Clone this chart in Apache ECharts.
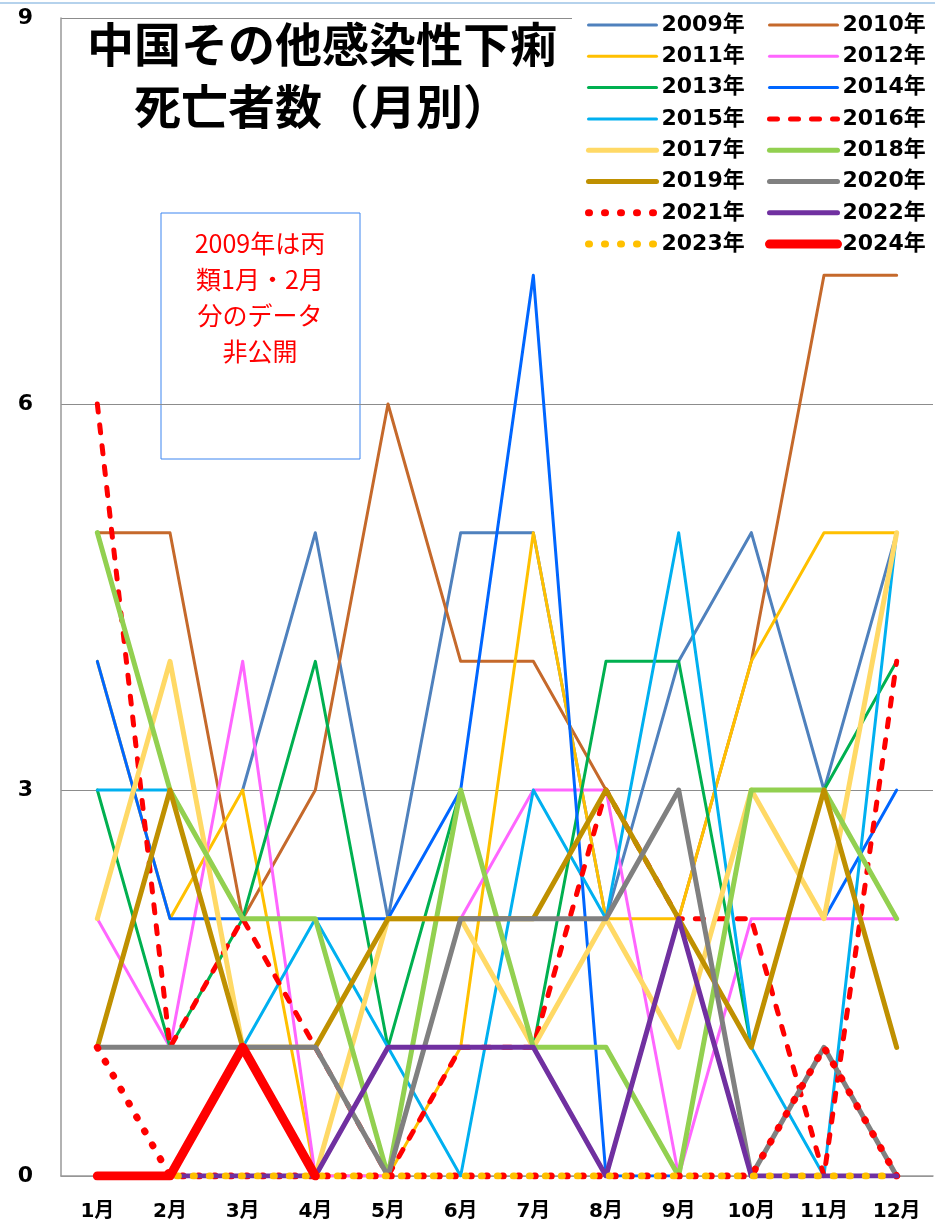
<!DOCTYPE html>
<html>
<head>
<meta charset="utf-8">
<script src="https://cdn.jsdelivr.net/npm/echarts@6/dist/echarts.min.js"></script>
<style>
  html, body { margin: 0; padding: 0; background: #fff; }
  #chart { width: 935px; height: 1231px; }
</style>
</head>
<body>
<div id="chart"></div>
<script>
// months on the x axis
const months = ['1月', '2月', '3月', '4月', '5月', '6月', '7月', '8月', '9月', '10月', '11月', '12月'];
// y axis range
const yMax = 9;
const yStep = 3;

// deaths per month, one array per year (2009 Jan/Feb not published)
const d2009 = [null, null, 3, 5, 2, 5, 5, 2, 4, 5, 3, 5];
const d2010 = [5, 5, 2, 3, 6, 4, 4, 3, 2, 4, 7, 7];
const d2011 = [4, 2, 3, 0, 0, 1, 5, 2, 2, 4, 5, 5];
const d2012 = [2, 1, 4, 0, 0, 2, 3, 3, 0, 2, 2, 2];
const d2013 = [3, 1, 2, 4, 1, 3, 1, 4, 4, 1, 3, 4];
const d2014 = [4, 2, 2, 2, 2, 3, 7, 0, 0, 3, 2, 3];
const d2015 = [3, 3, 1, 2, 1, 0, 3, 2, 5, 1, 0, 5];
const d2016 = [6, 1, 2, 1, 0, 1, 1, 3, 2, 2, 0, 4];
const d2017 = [2, 4, 1, 0, 2, 2, 1, 2, 1, 3, 2, 5];
const d2018 = [5, 3, 2, 2, 0, 3, 1, 1, 0, 3, 3, 2];
const d2019 = [1, 3, 1, 1, 2, 2, 2, 3, 2, 1, 3, 1];
const d2020 = [1, 1, 1, 1, 0, 2, 2, 2, 3, 0, 1, 0];
const d2021 = [1, 0, 0, 0, 0, 0, 0, 0, 0, 0, 1, 0];
const d2022 = [0, 0, 0, 0, 1, 1, 1, 0, 2, 0, 0, 0];
const d2023 = [0, 0, 0, 0, 0, 0, 0, 0, 0, 0, 0, 0];
const d2024 = [0, 0, 1, 0, null, null, null, null, null, null, null, null];

const FONT = '"DejaVu Sans", "Noto Sans CJK JP", sans-serif';
const DASH = [8, 13];
const DOT = [1, 15];

// series list: name, values, look
const lines = [
  { name: '2009年', data: d2009, color: '#4f81bd', width: 3 },
  { name: '2010年', data: d2010, color: '#c5692b', width: 3 },
  { name: '2011年', data: d2011, color: '#ffc000', width: 3 },
  { name: '2012年', data: d2012, color: '#ff66ff', width: 3 },
  { name: '2013年', data: d2013, color: '#00b050', width: 3 },
  { name: '2014年', data: d2014, color: '#0066ff', width: 3 },
  { name: '2015年', data: d2015, color: '#00b0f0', width: 3 },
  { name: '2016年', data: d2016, color: '#ff0000', width: 5, type: DASH },
  { name: '2017年', data: d2017, color: '#ffd966', width: 5 },
  { name: '2018年', data: d2018, color: '#92d050', width: 5 },
  { name: '2019年', data: d2019, color: '#bf9000', width: 5 },
  { name: '2020年', data: d2020, color: '#808080', width: 5 },
  { name: '2021年', data: d2021, color: '#ff0000', width: 7, type: DOT },
  { name: '2022年', data: d2022, color: '#7030a0', width: 5 },
  { name: '2023年', data: d2023, color: '#ffc000', width: 7, type: DOT },
  { name: '2024年', data: d2024, color: '#ff0000', width: 9 }
];

const series = lines.map(function (l) {
  return {
    name: l.name,
    type: 'line',
    data: l.data,
    symbol: 'none',
    showSymbol: false,
    color: l.color,
    lineStyle: {
      color: l.color,
      width: l.width,
      type: l.type || 'solid',
      cap: 'round',
      join: 'round'
    }
  };
});

const legendBase = {
  orient: 'vertical',
  top: 5,
  itemWidth: 68,
  itemHeight: 14,
  itemGap: 9.3,
  backgroundColor: '#fff',
  itemStyle: { opacity: 0 },
  lineStyle: { width: 'inherit' },
  textStyle: { fontFamily: FONT, fontSize: 22, fontWeight: 'bold', color: '#000' }
};

const option = {
  animation: false,
  backgroundColor: '#fff',
  grid: { left: 61, right: 2, top: 18, bottom: 55 },
  legend: [
    Object.assign({}, legendBase, {
      left: 572,
      padding: [9, 20, 8, 13],
      data: lines.filter(function (l, i) { return i % 2 === 0; }).map(function (l) { return l.name; })
    }),
    Object.assign({}, legendBase, {
      left: 760,
      padding: [9, 20, 8, 5],
      data: lines.filter(function (l, i) { return i % 2 === 1; }).map(function (l) { return l.name; })
    })
  ],
  xAxis: {
    type: 'category',
    data: months,
    boundaryGap: true,
    axisLine: { show: true, lineStyle: { color: '#999', width: 1.5 } },
    axisTick: { show: false },
    axisLabel: { fontFamily: FONT, fontSize: 20, fontWeight: 'bold', color: '#000', margin: 26 }
  },
  yAxis: {
    type: 'value',
    min: 0,
    max: yMax,
    interval: yStep,
    axisLine: { show: true, lineStyle: { color: '#999', width: 1.5 } },
    axisTick: { show: false },
    splitLine: { show: true, lineStyle: { color: '#8c8c8c', width: 1 } },
    axisLabel: { fontFamily: FONT, fontSize: 22, fontWeight: 'bold', color: '#000', margin: 28 }
  },
  graphic: [
    {
      type: 'line',
      shape: { x1: 0, y1: 3, x2: 935, y2: 3 },
      style: { stroke: '#9dc3e6', lineWidth: 1.5 }
    },
    {
      type: 'text',
      x: 322,
      y: 75,
      style: {
        text: '中国その他感染性下痢\n死亡者数（月別）',
        font: 'bold 47px "Noto Sans CJK JP"',
        fill: '#000',
        textAlign: 'center',
        textVerticalAlign: 'middle',
        lineHeight: 62
      }
    },
    {
      type: 'rect',
      shape: { x: 161, y: 213, width: 199, height: 246 },
      style: { fill: '#fff', stroke: '#3d85f0', lineWidth: 1 }
    },
    {
      type: 'text',
      x: 260,
      y: 297,
      style: {
        text: '2009年は丙\n類1月・2月\n分のデータ\n非公開',
        font: '25px "Noto Sans CJK JP"',
        fill: '#ff0000',
        textAlign: 'center',
        textVerticalAlign: 'middle',
        lineHeight: 36
      }
    }
  ],
  series: series
};

const chart = echarts.init(document.getElementById('chart'));
chart.setOption(option);
</script>
</body>
</html>
